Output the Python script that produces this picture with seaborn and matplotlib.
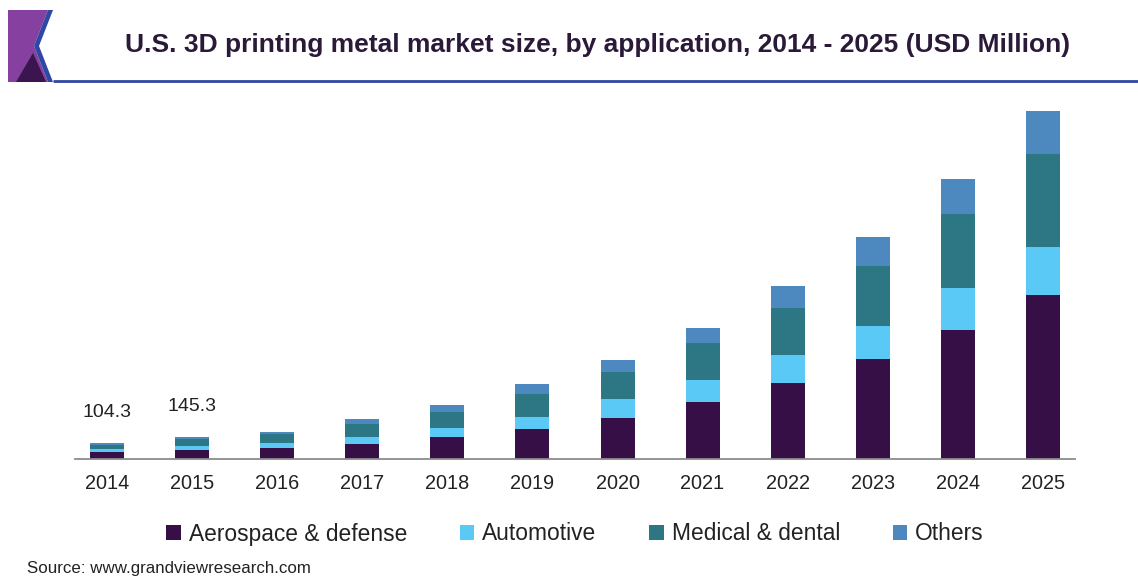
import numpy as np
import pandas as pd
import seaborn as sns
import matplotlib.pyplot as plt
from matplotlib.patches import Patch, Polygon

# ---- data (USD Million) ----
years = ["2014", "2015", "2016", "2017", "2018", "2019", "2020",
         "2021", "2022", "2023", "2024", "2025"]
aerospace = [44.5, 60.0, 72, 100, 146, 201, 277, 385, 512, 671, 866, 1101]
automotive = [21.0, 30.0, 38, 49, 60, 83, 123, 145, 186, 224, 280, 324]
medical = [30.0, 44.0, 55, 85, 107, 150, 181, 246, 313, 403, 497, 622]
others = [8.8, 11.3, 14, 33, 47, 67, 83, 105, 150, 195, 237, 291]
segments = ["Aerospace & defense", "Automotive", "Medical & dental", "Others"]
colors = ["#360f47", "#5bc9f5", "#2d7785", "#4d88bf"]
labelled = {"2014": 104.3, "2015": 145.3}

sns.set_theme(style="white")
plt.rcParams["font.family"] = ["Liberation Sans", "DejaVu Sans"]

W, H, DPI = 1138, 578, 100
fig = plt.figure(figsize=(W / DPI, H / DPI), dpi=DPI)

# overlay in pixel coordinates for the header decoration
deco = fig.add_axes([0, 0, 1, 1], zorder=0)
deco.set_xlim(0, W)
deco.set_ylim(H, 0)
deco.axis("off")
deco.add_patch(Polygon([(8, 10), (48, 10), (34, 46), (48, 82), (8, 82)],
                       closed=True, facecolor="#86409f", edgecolor="none"))
deco.add_patch(Polygon([(16, 82), (33, 53), (46, 82)],
                       closed=True, facecolor="#3a1550", edgecolor="none"))
deco.add_patch(Polygon([(48, 10), (53, 10), (39, 46), (53, 82), (48, 82), (34, 46)],
                       closed=True, facecolor="#2f48a6", edgecolor="none"))
deco.plot([53, W], [80.5, 80.5], color="#3346a3", lw=2, solid_capstyle="butt")
deco.text(598, 45, "U.S. 3D printing metal market size, by application, 2014 - 2025 (USD Million)",
          ha="center", va="center", fontsize=19, fontweight="bold", color="#2a1a38")
deco.text(27, 568, "Source: www.grandviewresearch.com", ha="left", va="center",
          fontsize=12.2, color="#222222")

# ---- main chart ----
base_px, top_px, left_px, right_px = 459, 100, 75, 1075
ax = fig.add_axes([left_px / W, (H - base_px) / H, (right_px - left_px) / W,
                   (base_px - top_px) / H], zorder=1)
ax.patch.set_alpha(0)

df = pd.DataFrame({"year": years, segments[0]: aerospace, segments[1]: automotive,
                   segments[2]: medical, segments[3]: others})
cum = df[segments].cumsum(axis=1)

# draw cumulative totals from the top layer down so each segment shows
for seg, col in reversed(list(zip(segments, colors))):
    sns.barplot(x=df["year"], y=cum[seg], color=col, width=0.4,
                saturation=1, edgecolor="none", ax=ax)

for yr, val in labelled.items():
    i = years.index(yr)
    ax.annotate(f"{val}", (i, val), xytext=(0, 22), textcoords="offset pixels",
                ha="center", va="bottom", fontsize=14, color="#222222")

ax.set_xlim(-0.38, 11.38)
ax.set_ylim(0, (base_px - top_px) / 0.149)
ax.set_xlabel("")
ax.set_ylabel("")
ax.set_yticks([])
for s in ["left", "right", "top"]:
    ax.spines[s].set_visible(False)
ax.spines["bottom"].set_color("#8c8c8c")
ax.spines["bottom"].set_linewidth(1.3)
ax.tick_params(axis="x", length=0, pad=11, labelsize=14.3, labelcolor="#222222")

handles = [Patch(facecolor=c, edgecolor="none") for c in colors]
fig.legend(handles, segments, loc="center", bbox_to_anchor=(575 / W, (H - 534) / H),
           ncol=4, frameon=False, fontsize=16.4, handlelength=0.65, handleheight=0.65,
           handletextpad=0.35, columnspacing=2.3, labelcolor="#222222")

fig.savefig("out.png", dpi=DPI)
